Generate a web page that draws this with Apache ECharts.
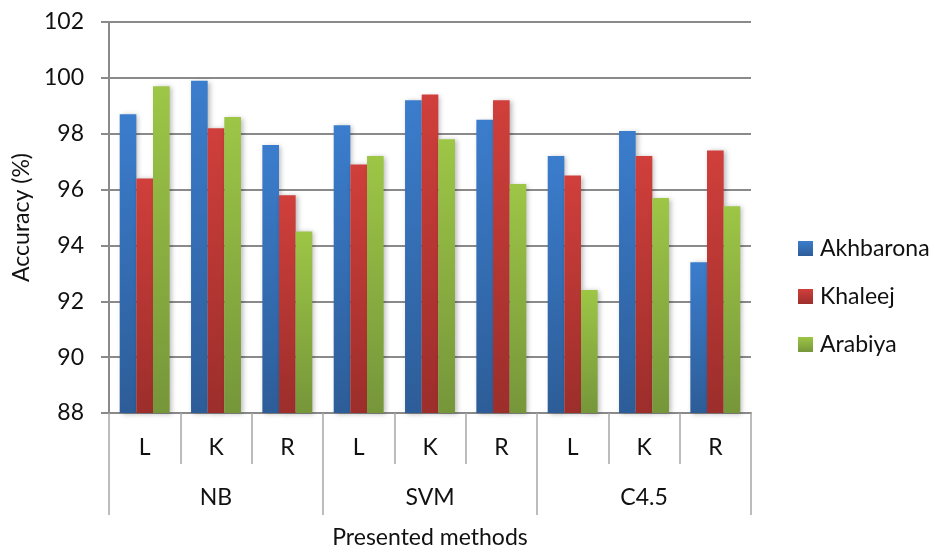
<!DOCTYPE html>
<html>
<head>
<meta charset="utf-8">
<script src="https://cdn.jsdelivr.net/npm/echarts@6/dist/echarts.min.js"></script>
<style>
  html, body { margin: 0; padding: 0; background: #ffffff; }
  #chart { width: 934px; height: 554px; }
</style>
</head>
<body>
<div id="chart"></div>
<script>
// Sub-categories (dataset) within each classifier group
const subCategories = ['L', 'K', 'R', 'L', 'K', 'R', 'L', 'K', 'R'];
const methodGroups = ['NB', 'SVM', 'C4.5'];
const seriesNames = ['Akhbarona', 'Khaleej', 'Arabiya'];

// Accuracy (%) per sub-category
const akhbarona = [98.7, 99.9, 97.6, 98.3, 99.2, 98.5, 97.2, 98.1, 93.4];
const khaleej   = [96.4, 98.2, 95.8, 96.9, 99.4, 99.2, 96.5, 97.2, 97.4];
const arabiya   = [99.7, 98.6, 94.5, 97.2, 97.8, 96.2, 92.4, 95.7, 95.4];

const yTicks = [88, 90, 92, 94, 96, 98, 100, 102];

const FONT = 'Lato';
const FS = 23;
const chart = echarts.init(document.getElementById('chart'), null, { renderer: 'canvas' });

function grad(top, bottom) {
  return new echarts.graphic.LinearGradient(0, 0, 0, 1, [
    { offset: 0, color: top },
    { offset: 1, color: bottom }
  ]);
}

const palettes = [
  ['#3b7dcd', '#2d5d98'],
  ['#d03f3b', '#9c2e2b'],
  ['#9dc646', '#76963a']
];
const values = [akhbarona, khaleej, arabiya];

const series = seriesNames.map((name, i) => ({
  name: name,
  type: 'bar',
  xAxisIndex: 0,
  data: values[i],
  barGap: '0%',
  barCategoryGap: '30%',
  itemStyle: {
    color: grad(palettes[i][0], palettes[i][1]),
    shadowBlur: 5,
    shadowOffsetX: 2,
    shadowOffsetY: 1,
    shadowColor: 'rgba(0,0,0,0.28)'
  }
}));

chart.setOption({
  animation: false,
  backgroundColor: '#ffffff',
  textStyle: { fontFamily: FONT },
  grid: { left: 109, right: 183, top: 22, bottom: 133, containLabel: false },
  legend: {
    orient: 'vertical',
    left: 793,
    top: 232,
    itemWidth: 15,
    itemHeight: 15,
    itemGap: 25,
    icon: 'rect',
    data: seriesNames,
    textStyle: { fontFamily: FONT, fontSize: FS, color: '#111', padding: [0, 0, 0, 2] }
  },
  xAxis: [
    {
      type: 'category',
      data: subCategories,
      position: 'bottom',
      boundaryGap: true,
      axisLine: { show: true, lineStyle: { color: '#8a8a8a', width: 2 } },
      axisTick: { show: true, interval: 0, length: 51, lineStyle: { color: '#a6a6a6', width: 1.5 } },
      axisLabel: { interval: 0, margin: 23, fontSize: FS, color: '#111', fontFamily: FONT }
    },
    {
      type: 'category',
      data: methodGroups,
      position: 'bottom',
      boundaryGap: true,
      axisLine: { show: false },
      axisTick: { show: true, interval: 0, length: 102, lineStyle: { color: '#a6a6a6', width: 1.5 } },
      axisLabel: { interval: 0, margin: 73, fontSize: FS, color: '#111', fontFamily: FONT },
      name: 'Presented methods',
      nameLocation: 'middle',
      nameGap: 113,
      nameTextStyle: { fontSize: FS, color: '#111', fontFamily: FONT, verticalAlign: 'top' }
    }
  ],
  yAxis: {
    type: 'value',
    min: yTicks[0],
    max: yTicks[yTicks.length - 1],
    interval: 2,
    name: 'Accuracy (%)',
    nameLocation: 'middle',
    nameGap: 75,
    nameTextStyle: { fontSize: FS, color: '#111', fontFamily: FONT },
    axisLine: { show: true, lineStyle: { color: '#8a8a8a', width: 2 } },
    axisTick: { show: true, length: 8, inside: false, lineStyle: { color: '#8a8a8a', width: 2 } },
    axisLabel: { margin: 25, fontSize: FS, color: '#111', fontFamily: FONT },
    splitLine: { show: true, lineStyle: { color: '#8a8a8a', width: 2 } }
  },
  series: series
});
</script>
</body>
</html>
